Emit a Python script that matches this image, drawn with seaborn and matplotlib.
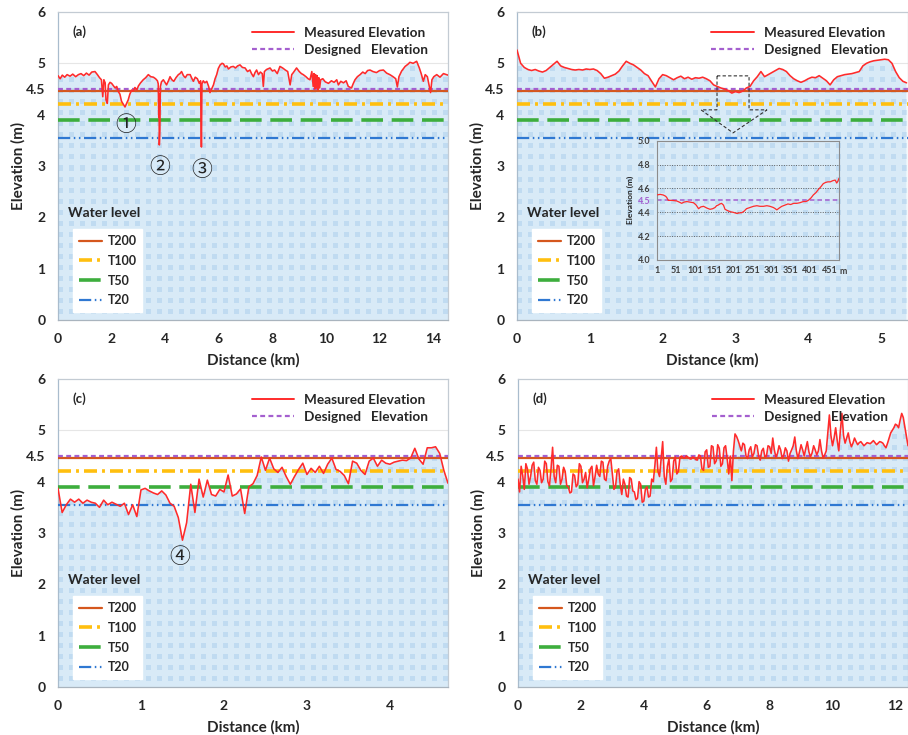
import numpy as np
import pandas as pd
import matplotlib
matplotlib.use("Agg")
import matplotlib.pyplot as plt
from matplotlib.lines import Line2D
from matplotlib.patches import Polygon
from matplotlib.colors import to_rgba
import seaborn as sns

# ---------------------------------------------------------------- data
# (a) levee crest survey, 0 - 14.55 km
dist_a = [0.00, 0.08, 0.16, 0.25, 0.34, 0.45, 0.55, 0.66, 0.76, 0.86,
          0.96, 1.06, 1.16, 1.26, 1.38, 1.47, 1.55, 1.62, 1.67, 1.71,
          1.76, 1.79, 1.84, 1.88, 1.94, 2.00, 2.07, 2.13, 2.19, 2.25,
          2.31, 2.37, 2.44, 2.50, 2.56, 2.62, 2.68, 2.75, 2.81, 2.87,
          2.94, 3.00, 3.08, 3.18, 3.27, 3.37, 3.46, 3.56, 3.64, 3.71,
          3.74, 3.76, 3.77, 3.78, 3.80, 3.82, 3.86, 3.93, 4.00, 4.05,
          4.12, 4.18, 4.25, 4.32, 4.40, 4.49, 4.55, 4.61, 4.68, 4.75,
          4.82, 4.93, 5.00, 5.05, 5.12, 5.20, 5.27, 5.32, 5.35, 5.37,
          5.42, 5.48, 5.55, 5.62, 5.67, 5.73, 5.80, 5.86, 5.92, 5.98,
          6.05, 6.12, 6.17, 6.24, 6.30, 6.36, 6.45, 6.54, 6.62, 6.70,
          6.79, 6.88, 6.98, 7.07, 7.16, 7.22, 7.29, 7.35, 7.41, 7.48,
          7.55, 7.62, 7.66, 7.70, 7.78, 7.91, 8.00, 8.08, 8.18, 8.28,
          8.38, 8.48, 8.57, 8.62, 8.66, 8.72, 8.78, 8.90, 9.00, 9.08,
          9.15, 9.25, 9.33, 9.40, 9.47, 9.52, 9.55, 9.58, 9.61, 9.64,
          9.67, 9.70, 9.73, 9.76, 9.80, 9.88, 9.97, 10.09, 10.20, 10.30,
          10.40, 10.46, 10.55, 10.65, 10.75, 10.83, 10.95, 11.01, 11.08, 11.17,
          11.27, 11.37, 11.46, 11.55, 11.64, 11.75, 11.88, 12.00, 12.14, 12.26,
          12.38, 12.50, 12.60, 12.66, 12.72, 12.82, 12.95, 13.05, 13.13, 13.25,
          13.38, 13.48, 13.55, 13.63, 13.70, 13.78, 13.86, 13.90, 13.95, 14.02,
          14.13, 14.25, 14.38, 14.55]
elev_a = [4.76, 4.70, 4.77, 4.73, 4.78, 4.75, 4.79, 4.74, 4.78, 4.80,
          4.76, 4.81, 4.77, 4.83, 4.84, 4.78, 4.72, 4.68, 4.35, 4.68,
          4.62, 4.29, 4.22, 4.58, 4.63, 4.61, 4.56, 4.52, 4.55, 4.45,
          4.40, 4.26, 4.20, 4.15, 4.22, 4.29, 4.40, 4.48, 4.46, 4.53,
          4.48, 4.56, 4.62, 4.68, 4.72, 4.78, 4.74, 4.73, 4.70, 4.66,
          4.60, 3.95, 4.40, 3.41, 3.70, 4.55, 4.64, 4.68, 4.62, 4.58,
          4.66, 4.74, 4.68, 4.65, 4.72, 4.78, 4.80, 4.84, 4.76, 4.72,
          4.78, 4.78, 4.70, 4.65, 4.73, 4.70, 4.61, 4.66, 3.37, 4.60,
          4.66, 4.62, 4.65, 4.55, 4.43, 4.50, 4.58, 4.70, 4.78, 4.90,
          4.97, 5.00, 4.99, 4.93, 4.95, 4.89, 4.93, 4.94, 4.91, 4.95,
          4.97, 4.92, 4.91, 4.84, 4.87, 4.80, 4.74, 4.82, 4.87, 4.78,
          4.83, 4.80, 4.55, 4.84, 4.88, 4.91, 4.85, 4.87, 4.80, 4.94,
          4.91, 4.87, 4.84, 4.70, 4.58, 4.78, 4.82, 4.91, 4.84, 4.80,
          4.78, 4.74, 4.70, 4.68, 4.84, 4.55, 4.80, 4.50, 4.78, 4.52,
          4.76, 4.48, 4.72, 4.52, 4.68, 4.70, 4.64, 4.61, 4.66, 4.63,
          4.68, 4.58, 4.65, 4.62, 4.66, 4.55, 4.52, 4.60, 4.68, 4.74,
          4.78, 4.83, 4.80, 4.86, 4.87, 4.84, 4.82, 4.86, 4.87, 4.81,
          4.78, 4.74, 4.70, 4.54, 4.74, 4.85, 4.94, 4.98, 5.02, 5.00,
          5.04, 4.91, 4.80, 4.65, 4.78, 4.74, 4.54, 4.43, 4.68, 4.74,
          4.78, 4.73, 4.80, 4.77]

# (b) surveyed every 50 m, 0 - 5.35 km
step_b = 0.05
elev_b = [5.26, 5.00, 4.92, 4.88, 4.86, 4.88, 4.85, 4.83, 4.86, 4.92,
          4.98, 5.04, 4.95, 4.92, 4.90, 4.88, 4.87, 4.88, 4.87, 4.89,
          4.88, 4.89, 4.86, 4.80, 4.71, 4.73, 4.76, 4.79, 4.85, 4.95,
          5.04, 5.00, 4.97, 4.92, 4.87, 4.80, 4.76, 4.65, 4.54, 4.70,
          4.78, 4.76, 4.72, 4.68, 4.72, 4.75, 4.70, 4.73, 4.69, 4.72,
          4.71, 4.73, 4.70, 4.66, 4.58, 4.55, 4.52, 4.50, 4.47, 4.42,
          4.45, 4.43, 4.46, 4.52, 4.55, 4.66, 4.74, 4.84, 4.74, 4.78,
          4.82, 4.86, 4.90, 4.88, 4.84, 4.76, 4.70, 4.66, 4.63, 4.66,
          4.70, 4.73, 4.72, 4.76, 4.71, 4.66, 4.58, 4.68, 4.74, 4.76,
          4.78, 4.79, 4.80, 4.82, 4.84, 4.95, 5.00, 5.03, 5.05, 5.06,
          5.07, 5.08, 5.07, 5.00, 4.84, 4.72, 4.65, 4.62]

# (b) detail of the low section, chainage in metres
detail_m = [1, 10, 18, 24, 27, 31, 40, 53, 60, 66,
            72, 79, 88, 97, 104, 110, 116, 123, 132, 140,
            147, 153, 157, 161, 166, 170, 175, 179, 185, 192,
            200, 210, 216, 223, 229, 235, 244, 253, 262, 270,
            279, 288, 296, 305, 310, 314, 320, 327, 335, 343,
            350, 358, 366, 374, 383, 390, 396, 403, 409, 416,
            422, 429, 435, 441, 447, 453, 460, 466, 470, 473,
            476]
detail_elev = [4.545, 4.55, 4.545, 4.535, 4.525, 4.50, 4.50, 4.495, 4.485, 4.475,
               4.485, 4.49, 4.485, 4.48, 4.46, 4.43, 4.445, 4.45, 4.435, 4.425,
               4.43, 4.44, 4.455, 4.46, 4.47, 4.475, 4.46, 4.425, 4.415, 4.405,
               4.40, 4.39, 4.395, 4.397, 4.41, 4.43, 4.44, 4.45, 4.455, 4.45,
               4.45, 4.455, 4.45, 4.44, 4.43, 4.42, 4.435, 4.45, 4.46, 4.47,
               4.465, 4.475, 4.475, 4.48, 4.49, 4.49, 4.50, 4.52, 4.545, 4.565,
               4.59, 4.615, 4.64, 4.65, 4.655, 4.655, 4.665, 4.67, 4.645, 4.66,
               4.685]

# (c) surveyed every 50 m, 0 - 4.70 km
step_c = 0.05
elev_c = [3.87, 3.40, 3.55, 3.66, 3.60, 3.66, 3.58, 3.64, 3.60, 3.58,
          3.50, 3.64, 3.55, 3.60, 3.56, 3.52, 3.58, 3.36, 3.55, 3.32,
          3.84, 3.87, 3.82, 3.78, 3.75, 3.82, 3.74, 3.58, 3.52, 3.30,
          2.86, 3.20, 3.95, 3.40, 4.05, 3.70, 4.03, 3.75, 3.72, 3.85,
          3.80, 4.13, 3.72, 3.76, 3.86, 3.38, 3.90, 3.96, 4.12, 4.48,
          4.22, 4.46, 4.25, 4.18, 4.28, 4.10, 3.95, 4.10, 4.24, 4.36,
          4.14, 4.26, 4.18, 4.30, 4.16, 4.34, 4.46, 4.24, 4.20, 4.12,
          3.96, 4.40, 4.36, 4.22, 4.14, 4.40, 4.46, 4.30, 4.42, 4.36,
          4.34, 4.38, 4.40, 4.42, 4.41, 4.46, 4.65, 4.44, 4.34, 4.66,
          4.66, 4.68, 4.55, 4.22, 3.97]

# (d) surveyed every 50 m, 0 - 12.4 km
step_d = 0.05
elev_d = [4.05, 3.80, 4.30, 4.12, 3.85, 4.35, 4.25, 3.95, 4.10, 4.32,
          4.38, 4.02, 3.95, 4.28, 4.22, 3.98, 4.05, 4.40, 4.35, 4.00,
          3.92, 4.25, 4.67, 4.10, 3.98, 4.32, 4.30, 3.95, 4.05, 4.28,
          4.20, 3.92, 3.90, 3.78, 3.80, 4.15, 4.12, 3.90, 3.95, 4.35,
          4.30, 3.98, 4.05, 4.18, 3.88, 4.05, 4.25, 4.30, 3.92, 4.10,
          4.32, 4.15, 4.10, 4.40, 4.38, 4.05, 4.02, 4.30, 4.40, 4.45,
          4.15, 3.85, 3.90, 4.20, 4.25, 3.95, 3.75, 4.05, 3.95, 3.72,
          3.70, 4.08, 4.05, 3.82, 3.80, 3.65, 3.68, 4.00, 3.95, 3.60,
          3.62, 3.85, 3.90, 3.70, 3.72, 4.05, 4.00, 4.30, 4.67, 4.20,
          4.10, 4.45, 4.78, 4.10, 3.95, 4.30, 4.45, 4.00, 4.05, 4.40,
          4.48, 4.15, 4.20, 4.48, 4.50, 4.47, 4.46, 4.50, 4.48, 4.45,
          4.44, 4.48, 4.47, 4.43, 4.42, 4.52, 4.50, 4.25, 4.22, 4.58,
          4.62, 4.28, 4.30, 4.70, 4.68, 4.35, 4.40, 4.72, 4.65, 4.30,
          4.35, 4.66, 4.70, 4.45, 4.15, 4.50, 4.02, 4.60, 4.93, 4.88,
          4.80, 4.70, 4.60, 4.75, 4.72, 4.50, 4.45, 4.62, 4.68, 4.48,
          4.55, 4.72, 4.70, 4.50, 4.42, 4.60, 4.65, 4.48, 4.50, 4.70,
          4.68, 4.55, 4.85, 4.62, 4.48, 4.55, 4.70, 4.62, 4.45, 4.52,
          4.66, 4.60, 4.40, 4.55, 4.62, 4.70, 4.87, 4.60, 4.45, 4.58,
          4.72, 4.62, 4.50, 4.65, 4.78, 4.58, 4.48, 4.56, 4.70, 4.62,
          4.52, 4.60, 4.82, 4.60, 4.46, 4.52, 4.60, 4.95, 5.30, 4.90,
          4.70, 4.85, 5.05, 4.80, 4.60, 5.00, 5.33, 4.90, 4.75, 4.85,
          4.95, 4.78, 4.68, 4.75, 4.85, 4.78, 4.72, 4.76, 4.78, 4.74,
          4.70, 4.73, 4.76, 4.75, 4.74, 4.77, 4.80, 4.76, 4.72, 4.75,
          4.78, 4.77, 4.75, 4.70, 4.66, 4.75, 4.85, 4.95, 5.00, 5.05,
          5.12, 5.10, 5.05, 5.20, 5.33, 5.25, 5.07, 4.90, 4.70]

# design crest and flood water levels (m)
designed_level = 4.5
water_names = ["T200", "T100", "T50", "T20"]
water_levels = [4.47, 4.2, 3.9, 3.55]

# annotated breaches: (panel, km, label height, text)
breach_marks = [("a", 2.54, 3.80, "\u2460"), ("a", 3.80, 2.98, "\u2461"),
                ("a", 5.37, 2.92, "\u2462"), ("c", 1.47, 2.53, "\u2463")]

# ---------------------------------------------------------------- style
RED = "#ff2b2b"
PURPLE = "#a45fcf"
WATER_COLORS = ["#d5571d", "#ffbf0f", "#3dae3d", "#2f78d2"]
WATER_LW = [1.6, 2.6, 2.6, 1.6]
WATER_LS = ["-", (0, (3.6, 1.4, 0.8, 1.4)), (0, (6.0, 2.4)),
            (0, (5.5, 1.6, 0.7, 1.6, 0.7, 1.6))]
FILL_BG = "#d8eaf7"
FILL_DOT = "#c0dbf1"
SPINE = "#c3cbd3"

sns.set_theme(style="white")
plt.rcParams["font.family"] = ["Lato", "DejaVu Sans"]
plt.rcParams["font.weight"] = "bold"
plt.rcParams["axes.labelweight"] = "bold"

fig = plt.figure(figsize=(9.08, 7.35), dpi=100)
FW, FH = 908.0, 735.0


def frame(px_left, px_top, px_right, px_bottom):
    return [px_left / FW, 1 - px_bottom / FH, (px_right - px_left) / FW,
            (px_bottom - px_top) / FH]


panels = {
    "a": dict(rect=frame(58, 12, 448, 320), dist=np.array(dist_a),
              elev=np.array(elev_a), xmax=14.55, major=np.arange(0, 15, 2),
              minor=np.arange(0, 15, 1)),
    "b": dict(rect=frame(517, 12, 908, 320),
              dist=np.round(np.arange(len(elev_b)) * step_b, 3),
              elev=np.array(elev_b), xmax=5.37, major=np.arange(0, 6, 1),
              minor=np.arange(0, 5.4, 0.5)),
    "c": dict(rect=frame(58, 379, 448, 687),
              dist=np.round(np.arange(len(elev_c)) * step_c, 3),
              elev=np.array(elev_c), xmax=4.70, major=np.arange(0, 5, 1),
              minor=np.arange(0, 4.75, 0.5)),
    "d": dict(rect=frame(518, 379, 908, 687),
              dist=np.round(np.arange(len(elev_d)) * step_d, 3),
              elev=np.array(elev_d), xmax=12.4, major=np.arange(0, 13, 2),
              minor=np.arange(0, 12.5, 1)),
}


def patterned_fill(ax, x, y):
    """Light blue area under the crest profile with a dotted texture."""
    poly = ax.fill_between(x, y, 0, facecolor=FILL_BG, edgecolor="none",
                           zorder=1)
    ext = ax.get_window_extent()
    w, h = int(round(ext.width)), int(round(ext.height))
    yy, xx = np.mgrid[0:h, 0:w]
    dots = ((xx % 11) < 5) & ((yy % 11) < 5)
    img = np.zeros((h, w, 4))
    img[dots] = to_rgba(FILL_DOT)
    x0, x1 = ax.get_xlim()
    y0, y1 = ax.get_ylim()
    im = ax.imshow(img, extent=(x0, x1, y0, y1), origin="upper",
                   aspect="auto", interpolation="nearest", zorder=1.2)
    im.set_clip_path(poly.get_paths()[0], ax.transData)
    ax.set_xlim(x0, x1)
    ax.set_ylim(y0, y1)


axes = {}
for key, p in panels.items():
    ax = fig.add_axes(p["rect"])
    axes[key] = ax
    ax.set_facecolor("white")
    ax.set_xlim(0, p["xmax"])
    ax.set_ylim(0, 6)

    ax.axhline(5, color="#e6e6e6", lw=0.8, zorder=0.5)
    patterned_fill(ax, p["dist"], p["elev"])

    for lvl, c, lw, ls in zip(water_levels, WATER_COLORS, WATER_LW, WATER_LS):
        ax.axhline(lvl, color=c, lw=lw, ls=ls, zorder=3)
    ax.axhline(designed_level, color=PURPLE, lw=1.6, ls=(0, (2.2, 1.5)),
               zorder=3.5)

    df = pd.DataFrame({"Distance (km)": p["dist"], "Elevation (m)": p["elev"]})
    sns.lineplot(data=df, x="Distance (km)", y="Elevation (m)", ax=ax,
                 color=RED, lw=1.15, estimator=None, sort=False, zorder=5)

    # axes cosmetics
    ax.set_yticks([0, 1, 2, 3, 4, 4.5, 5, 6])
    ax.set_yticklabels(["0", "1", "2", "3", "4", "4.5", "5", "6"])
    ax.set_xticks(p["major"])
    ax.set_xticklabels([f"{v:g}" for v in p["major"]])
    ax.set_xticks(p["minor"], minor=True)
    ax.tick_params(axis="y", length=0, pad=9, labelsize=10)
    ax.tick_params(axis="x", which="both", direction="in", length=3,
                   color="#9aa4ae", width=0.8, pad=9, labelsize=10)
    ax.set_xlabel("Distance (km)", fontsize=11, fontweight="bold", labelpad=6)
    ax.set_ylabel("Elevation (m)", fontsize=11, fontweight="bold", labelpad=0.5)
    for s in ax.spines.values():
        s.set_color(SPINE)
        s.set_linewidth(0.9)
    ax.spines["left"].set_color("#a9bccd")
    ax.spines["bottom"].set_color("#a9b4be")

    ax.text(0.038, 0.935, f"({key})", transform=ax.transAxes, fontsize=9.5,
            fontweight="bold", ha="left", va="center", zorder=8)

    # profile legend
    prof_handles = [Line2D([], [], color=RED, lw=1.4),
                    Line2D([], [], color=PURPLE, lw=1.6, ls=(0, (2.2, 1.5)))]
    leg1 = ax.legend(prof_handles, ["Measured Elevation", "Designed   Elevation"],
                     loc="upper left", bbox_to_anchor=(0.497, 0.952),
                     frameon=False, fontsize=9.8, handlelength=3.1,
                     handletextpad=0.75, labelspacing=0.36, borderpad=0,
                     borderaxespad=0)
    ax.add_artist(leg1)

    # water level legend
    wl_handles = [Line2D([], [], color=c, lw=lw, ls=ls)
                  for c, lw, ls in zip(WATER_COLORS, WATER_LW, WATER_LS)]
    leg2 = ax.legend(wl_handles, water_names, loc="lower left",
                     bbox_to_anchor=(0.0385, 0.026), frameon=True,
                     fancybox=False, framealpha=1, facecolor="white",
                     edgecolor="white", fontsize=9, handlelength=1.9,
                     handletextpad=0.4, labelspacing=0.62, borderpad=0.45,
                     borderaxespad=0)
    leg2.set_zorder(9)
    ax.text(0.026, 0.347, "Water level", transform=ax.transAxes, fontsize=10,
            fontweight="bold", ha="left", va="center", zorder=9)

# breach numbering
for key, xk, yk, txt in breach_marks:
    axes[key].text(xk, yk, txt, fontsize=15, ha="center", va="center",
                   family=["Noto Sans CJK SC", "DejaVu Sans"],
                   fontweight="normal", color="#222222", zorder=8)

# call-out arrow in (b) pointing to the detailed section
callout = Polygon([(2.747, 4.756), (3.187, 4.756), (3.187, 4.094),
                   (3.434, 4.094), (2.967, 3.645), (2.527, 4.094),
                   (2.747, 4.094)], closed=True, fill=False,
                  edgecolor="#333333", lw=0.8, ls=(0, (3, 2)), zorder=7)
axes["b"].add_patch(callout)

# inset with the detailed section
ins = fig.add_axes(frame(656.7, 140.7, 839, 260), facecolor="none")
ins.set_xlim(1, 476)
ins.set_ylim(4.0, 5.0)
for g in [4.2, 4.4, 4.6, 4.8]:
    ins.axhline(g, color="#606060", lw=0.7, ls=(0, (1, 1.5)), zorder=1)
ins.axhline(designed_level, color=PURPLE, lw=1.1, ls=(0, (3, 2)), zorder=2)
det = pd.DataFrame({"m": detail_m, "Elevation (m)": detail_elev})
sns.lineplot(data=det, x="m", y="Elevation (m)", ax=ins, color=RED, lw=0.9,
             estimator=None, sort=False, zorder=3)
ins.set_yticks([4.0, 4.2, 4.4, 4.5, 4.6, 4.8, 5.0])
ins.set_yticklabels(["4.0", "4.2", "4.4", "4.5", "4.6", "4.8", "5.0"])
ins.set_xticks(np.arange(1, 452, 50))
ins.set_xticklabels([str(v) for v in np.arange(1, 452, 50)])
ins.tick_params(axis="both", labelsize=6.5, length=2.5, width=0.6,
                color="#707070", pad=2, labelcolor="#404040")
ins.get_yticklabels()[3].set_color(PURPLE)
ins.set_xlabel("")
ins.set_ylabel("Elevation (m)", fontsize=6, fontweight="bold", labelpad=3)
for s in ins.spines.values():
    s.set_color("#8c8c8c")
    s.set_linewidth(0.8)
ins.text(1.005, -0.055, "m", transform=ins.transAxes, fontsize=6.5,
         color="#404040", ha="left", va="top")

fig.savefig("out.png", dpi=100, facecolor="white")
